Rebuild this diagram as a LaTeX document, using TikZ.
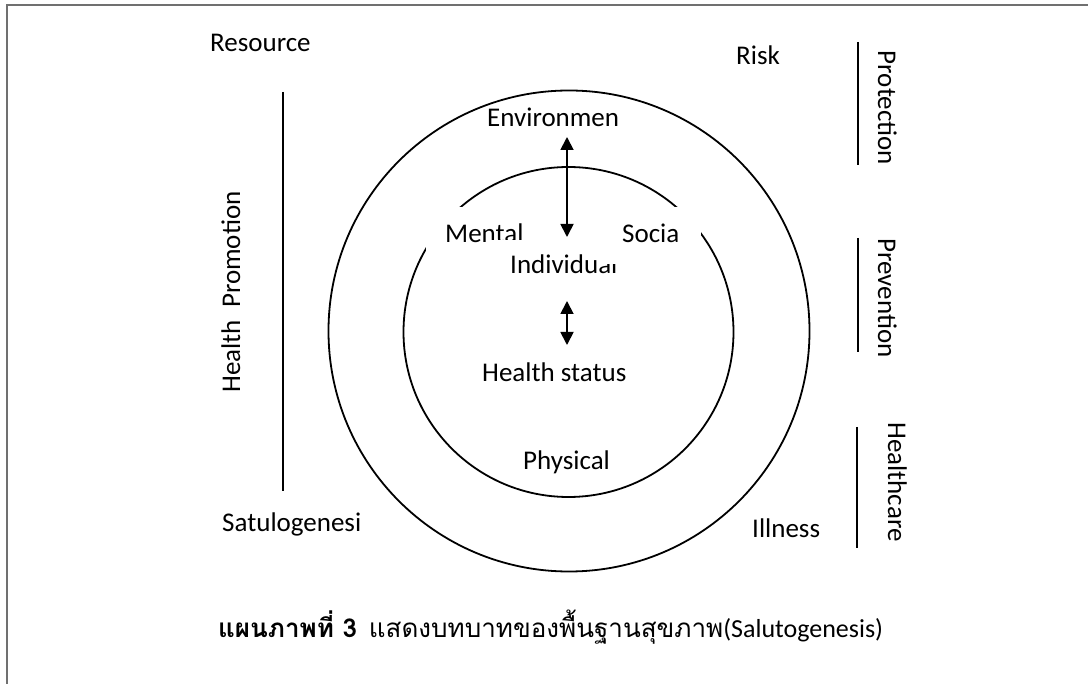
\documentclass[tikz,border=0pt]{standalone}
\usepackage{fontspec}
\setmainfont{Carlito}
\newfontfamily\thaifont[Script=Thai]{Loma}
\usetikzlibrary{arrows.meta}
\definecolor{framegray}{RGB}{112,112,112}
\begin{document}
\begin{tikzpicture}[x=1pt,y=-1pt,
  lbl/.style={inner sep=0pt, font=\fontsize{27}{31}\selectfont, anchor=base west},
  vlbl/.style={inner sep=0pt, font=\fontsize{27}{31}\selectfont, anchor=base},
  ring/.style={circle, draw, line width=1.8pt, inner sep=0pt},
  bar/.style={line width=1.8pt},
  cover/.style={fill=white, draw=none},
  dblarrow/.style={{Triangle[length=13pt,width=13pt]}-{Triangle[length=13pt,width=13pt]}, line width=1.8pt}]
  \useasboundingbox (0,0) rectangle (1088,684);

  % frame edges
  \coordinate (fbl) at (7,684);
  \coordinate (ftl) at (7,5);
  \coordinate (ftr) at (1088,5);
  \draw[framegray, line width=1.5pt] (fbl) -- (ftl) -- (ftr);

  % the two rings
  \node[ring, minimum size=481pt] (outer) at (569,331) {};
  \node[ring, minimum size=330pt] (inner) at (568.5,332) {};

  % corner labels
  \node[lbl] (resource) at (210,52) {Resource};
  \node[lbl] (risk) at (736,65) {Risk};
  \node[lbl] (satu) at (222,532) {Satulogenesi};
  \node[lbl] (illness) at (752,538) {Illness};

  % left bar: health promotion
  \coordinate (hpA) at (283,92);
  \coordinate (hpB) at (283,491);
  \draw[bar] (hpA) -- (hpB);
  \node[vlbl, rotate=90] (hp) at (240,292) {Health\ \ Promotion};

  % right bars
  \coordinate (prA) at (858,42);
  \coordinate (prB) at (858,165);
  \draw[bar] (prA) -- (prB);
  \node[vlbl, rotate=-90] (protection) at (878,108) {Protection};

  \coordinate (pvA) at (858,238);
  \coordinate (pvB) at (858,352);
  \draw[bar] (pvA) -- (pvB);
  \node[vlbl, rotate=-90] (prevention) at (878,298) {Prevention};

  \coordinate (hcA) at (857,427);
  \coordinate (hcB) at (857,548);
  \draw[bar] (hcA) -- (hcB);
  \node[vlbl, rotate=-90] (healthcare) at (888,482) {Healthcare};

  % inner labels on white boxes
  \node[lbl] (environ) at (487,127) {Environmen};

  \fill[cover] (426,207) rectangle (560,268);
  \node[lbl] (mental) at (445,243) {Mental};

  \fill[cover] (490,240) rectangle (640,292);
  \node[lbl] (individual) at (510,274) {Individual};

  \fill[cover] (597,207) rectangle (701,264);
  \node[lbl] (social) at (622,243) {Socia};

  \node[lbl] (status) at (482,382) {Health status};
  \node[lbl] (physical) at (523,470) {Physical};

  % arrows
  \coordinate (envTip) at (567,137);
  \coordinate (indTop) at (567,237);
  \draw[dblarrow] (envTip) -- (indTop);
  \coordinate (indLow) at (567,301);
  \coordinate (statTop) at (567,345);
  \draw[dblarrow] (indLow) -- (statTop);

  % caption
  \node[lbl, font=\fontsize{26}{30}\selectfont] (caption) at (218,637)
    {{\thaifont\bfseries แผนภาพที่ 3}\ \ {\thaifont แสดงบทบาทของพื้นฐานสุขภาพ}(Salutogenesis)};
\end{tikzpicture}
\end{document}
